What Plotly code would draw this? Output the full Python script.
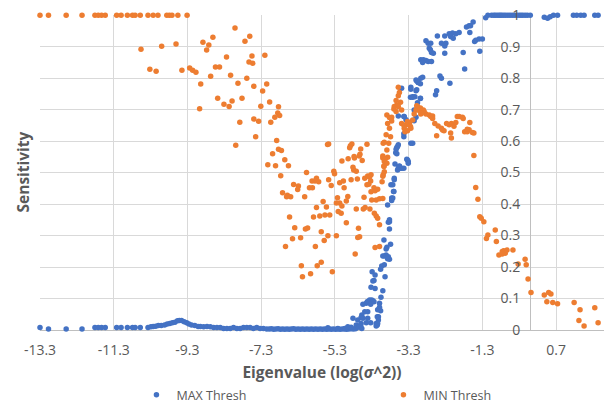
import plotly.graph_objects as go

# ---- data ----
max_x = [
    -13.30, -13.07, -12.59, -12.16, -11.81, -11.72, -11.63, -11.53, -11.22, -11.10,
    -10.93, -10.79, -10.72, -10.58, -10.37, -10.29, -10.23, -10.16, -10.09, -10.01,
    -9.92, -9.85, -9.78, -9.71, -9.64, -9.57, -9.52, -9.46, -9.39, -9.32,
    -9.26, -9.19, -9.10, -9.01, -8.95, -8.86, -8.77, -8.68, -8.59, -8.50,
    -8.41, -8.32, -8.23, -8.14, -8.05, -7.96, -7.87, -7.78, -7.69, -7.60,
    -7.51, -7.42, -7.33, -7.24, -7.15, -7.08, -7.02, -6.96, -6.90, -6.84,
    -6.78, -6.72, -6.66, -6.60, -6.54, -6.48, -6.42, -6.36, -6.30, -6.24,
    -6.18, -6.12, -6.06, -6.00, -5.94, -5.88, -5.82, -5.76, -5.70, -5.64,
    -5.58, -5.52, -5.46, -5.40, -5.34, -5.28, -5.22, -5.16, -5.10, -5.04,
    -4.98, -4.92, -4.86, -4.80, -4.74,
    -5.49, -5.22, -5.03, -4.81, -4.68, -4.72, -4.95, -4.86, -4.63, -4.59,
    -4.49, -4.41, -4.57, -4.14, -4.12, -4.18, -4.15, -4.36, -4.30, -4.41,
    -4.45, -4.24, -4.29, -4.21, -4.24, -4.21, -3.96, -3.91,
    -3.82, -3.85, -3.82, -3.97, -3.79, -3.89, -3.91, -4.00, -3.85, -3.82,
    -3.87, -4.03, -3.96, -4.06, -3.94, -4.27, -4.32, -4.00, -4.05, -4.42,
    -4.27, -4.33, -4.54, -4.09, -4.09, -4.06, -4.59, -4.54, -4.41, -4.33,
    -4.45, -4.15, -4.12, -4.14, -4.18, -4.60, -4.65, -4.57,
    -3.58, -3.43, -3.10, -3.15, -3.28, -3.43, -3.43, -3.24, -3.58, -3.62,
    -3.65, -3.35, -3.31, -3.67, -3.55, -3.51, -3.58, -3.69, -3.78, -3.71,
    -3.73, -3.76, -3.87, -3.82,
    -3.49, -3.24, -3.19, -3.13, -3.08, -3.04, -2.97, -3.08, -2.98, -3.37,
    -3.42, -3.15, -3.19, -3.60, -3.64, -3.62, -3.55, -3.49, -3.60, -3.43,
    -3.33, -3.31, -3.69, -3.73, -3.70, -3.76,
    -1.55, -1.66, -1.73, -1.51, -1.93, -2.02, -2.11, -2.20, -2.32, -2.16,
    -2.09, -2.52, -2.41, -2.29, -2.32, -2.83, -2.77, -2.70, -2.74, -2.68,
    -2.63, -2.71, -2.32, -1.82, -1.78, -2.97, -2.90, -2.83, -2.77, -2.68,
    -2.92, -2.45, -2.41, -2.18, -2.92, -3.10, -3.04, -2.98, -3.24, -3.10,
    -2.54, -2.57, -3.25, -3.19, -2.98, -3.06,
    -1.48, -1.39, -1.30, -1.37, -1.62, -1.64,
    -1.21, -1.15, -1.05, -0.99, -0.95, -0.90, -0.85, -0.81, -0.77, -0.72,
    -0.67, -0.61, -0.55, -0.49, -0.43, -0.36, -0.30, -0.25, -0.20, -0.14,
    -0.08, 0.00, 0.38, 0.47, 0.54, 0.63, 0.74, 1.17, 1.26, 1.37,
    1.46, 1.75, 1.84,
]
max_y = [
    0.008, 0.003, 0.003, 0.003, 0.008, 0.008, 0.008, 0.008, 0.008, 0.008,
    0.008, 0.008, 0.008, 0.008, 0.008, 0.010, 0.011, 0.012, 0.014, 0.014,
    0.016, 0.019, 0.021, 0.023, 0.025, 0.029, 0.030, 0.030, 0.026, 0.023,
    0.019, 0.016, 0.014, 0.011, 0.011, 0.010, 0.011, 0.010, 0.008, 0.008,
    0.008, 0.005, 0.005, 0.005, 0.008, 0.005, 0.005, 0.008, 0.008, 0.008,
    0.005, 0.008, 0.005, 0.005, 0.003, 0.003, 0.004, 0.002, 0.003, 0.004,
    0.002, 0.003, 0.002, 0.003, 0.002, 0.003, 0.004, 0.002, 0.003, 0.002,
    0.003, 0.002, 0.003, 0.002, 0.003, 0.002, 0.003, 0.002, 0.003, 0.002,
    0.003, 0.002, 0.003, 0.002, 0.003, 0.002, 0.003, 0.002, 0.003, 0.003,
    0.002, 0.003, 0.004, 0.003, 0.004,
    0.007, 0.005, 0.005, 0.037, 0.032, 0.016, 0.010, 0.009, 0.013, 0.021,
    0.058, 0.058, 0.048, 0.064, 0.042, 0.021, 0.016, 0.095, 0.095, 0.090,
    0.085, 0.090, 0.185, 0.175, 0.157, 0.132, 0.235, 0.238,
    0.344, 0.342, 0.321, 0.286, 0.272, 0.263, 0.257, 0.235, 0.233, 0.225,
    0.226, 0.203, 0.207, 0.193, 0.169, 0.156, 0.136, 0.125, 0.104, 0.090,
    0.093, 0.082, 0.082, 0.085, 0.072, 0.061, 0.040, 0.037, 0.037, 0.023,
    0.023, 0.042, 0.032, 0.021, 0.013, 0.013, 0.009, 0.005,
    0.680, 0.678, 0.676, 0.665, 0.659, 0.623, 0.614, 0.593, 0.588, 0.580,
    0.563, 0.542, 0.535, 0.527, 0.521, 0.514, 0.514, 0.482, 0.461, 0.440,
    0.419, 0.411, 0.397, 0.350,
    0.768, 0.765, 0.741, 0.741, 0.791, 0.786, 0.800, 0.763, 0.735, 0.668,
    0.678, 0.699, 0.593, 0.583, 0.574, 0.560, 0.519, 0.514, 0.508, 0.514,
    0.540, 0.530, 0.477, 0.461, 0.440, 0.419,
    0.978, 0.966, 0.962, 0.916, 0.945, 0.941, 0.943, 0.941, 0.934, 0.932,
    0.927, 0.934, 0.911, 0.911, 0.902, 0.919, 0.911, 0.911, 0.895, 0.881,
    0.879, 0.890, 0.879, 0.881, 0.829, 0.858, 0.858, 0.856, 0.853, 0.853,
    0.850, 0.807, 0.800, 0.784, 0.803, 0.794, 0.786, 0.782, 0.771, 0.760,
    0.760, 0.747, 0.739, 0.739, 0.736, 0.722,
    0.920, 0.924, 0.924, 0.885, 0.966, 0.945,
    0.992, 1.000, 1.000, 1.000, 1.000, 1.000, 1.000, 1.000, 1.000, 1.000,
    1.000, 1.000, 1.000, 1.000, 1.000, 1.000, 1.000, 1.000, 1.000, 1.000,
    1.000, 1.000, 0.993, 0.990, 0.995, 1.000, 1.000, 1.000, 1.000, 1.000,
    1.000, 1.000, 1.000,
]

min_x = [
    -13.30, -13.07, -12.59, -12.16, -11.81, -11.72, -11.63, -11.53, -11.22, -11.10,
    -10.93, -10.79, -10.72, -10.58, -10.37, -10.23, -10.10, -9.86, -9.79, -9.72,
    -9.56, -9.31,
    -10.56, -10.00, -9.61, -10.32, -10.15, -9.45, -9.24, -9.16, -9.07, -8.94,
    -8.97, -8.88, -8.72, -8.61, -8.78, -8.54, -8.43, -8.67, -8.24, -8.01,
    -7.74, -7.61, -7.55, -7.63, -7.53, -7.20, -8.13, -7.93, -7.69, -7.50,
    -7.15, -7.26, -8.48, -8.31, -8.17, -8.09, -7.82, -7.88, -7.50, -7.37,
    -7.31, -7.07, -6.83, -6.85, -6.80, -6.93, -7.04, -7.99, -7.45, -6.88,
    -6.99, -6.83, -6.75, -6.66, -7.12, -6.91, -6.56,
    -6.77, -6.07, -6.42, -6.29, -6.31, -6.72, -6.59, -6.50, -6.61, -6.12,
    -5.92, -5.84, -5.80, -5.99, -5.91, -6.53, -6.39, -6.10, -6.04, -5.88,
    -5.80, -6.45, -6.23, -6.64, -5.83, -6.21, -6.18, -5.96, -5.78,
    -5.47, -5.50, -4.88, -4.84, -4.90, -4.43, -4.60, -5.11, -4.94, -4.78,
    -4.77, -4.64, -4.62, -4.56, -3.96, -3.99, -4.00, -3.96, -3.97, -4.81,
    -4.79, -4.72, -5.33, -5.31, -5.74, -5.47, -5.40, -5.17, -5.07, -5.05,
    -4.86, -4.69, -4.49, -4.41, -4.43, -4.38, -4.33, -4.24, -4.32, -4.21,
    -3.99, -4.02, -5.62, -5.53, -5.23, -5.17, -5.26, -4.95, -4.99, -4.72,
    -4.53, -4.48, -4.35, -4.30, -4.18, -4.09, -4.00, -4.51, -4.23, -5.71,
    -5.57, -5.44, -5.21, -5.13,
    -5.11, -4.18, -4.14, -4.09, -5.67, -5.49, -5.59, -5.26, -4.99, -4.66,
    -4.63, -4.68, -4.21, -4.09, -4.75, -5.67, -5.37,
    -3.58, -3.55, -3.58, -3.64, -3.52, -3.62, -3.69, -3.58, -3.70, -3.49,
    -3.64, -3.06, -3.10, -3.01, -2.97, -2.88, -3.15, -2.97, -2.83, -2.74,
    -2.65, -1.98, -1.84, -3.76,
    -2.07, -2.14, -2.20, -2.27, -2.16, -2.14, -2.34, -2.41, -2.54, -2.50,
    -2.59, -2.65, -2.70, -2.90, -2.98, -3.04, -3.08, -2.95, -3.19, -3.28,
    -3.25, -3.33, -3.37, -3.49, -3.43, -3.42, -3.40, -3.33, -3.24,
    -3.89, -3.82, -3.76, -3.87, -3.82, -3.91, -3.79, -3.84, -3.89, -3.87,
    -4.00, -3.94, -3.89, -3.97, -3.96, -4.00, -4.32, -4.36, -4.14, -2.02,
    -2.38,
    -1.93, -1.82, -1.78, -1.71, -1.66, -1.64, -1.57, -1.53, -1.71, -1.53,
    -1.48, -1.42, -1.37, -1.33, -1.26, -1.19, -1.15, -0.95, -0.92, -0.85,
    -0.76, -0.72, -0.68, -0.63, -0.47, -0.76, -0.33, -0.14, -0.11, -0.06,
    0.02, 0.38, 0.50, 0.56, 0.45, 0.61, 0.74, 1.19, 1.35, 1.75,
    1.32, 1.46, 1.84,
]
min_y = [
    1.000, 1.000, 1.000, 1.000, 1.000, 1.000, 1.000, 1.000, 1.000, 1.000,
    1.000, 1.000, 1.000, 1.000, 1.000, 1.000, 1.000, 1.000, 1.000, 1.000,
    1.000, 1.000,
    0.892, 0.901, 0.908, 0.828, 0.822, 0.825, 0.832, 0.825, 0.819, 0.781,
    0.703, 0.914, 0.905, 0.930, 0.889, 0.835, 0.835, 0.806, 0.867, 0.959,
    0.917, 0.933, 0.870, 0.851, 0.847, 0.873, 0.809, 0.784, 0.800, 0.774,
    0.781, 0.759, 0.736, 0.717, 0.710, 0.727, 0.736, 0.660, 0.670, 0.663,
    0.711, 0.724, 0.709, 0.689, 0.681, 0.676, 0.660, 0.587, 0.614, 0.602,
    0.560, 0.574, 0.570, 0.541, 0.525, 0.522, 0.522,
    0.490, 0.500, 0.462, 0.457, 0.446, 0.436, 0.428, 0.423, 0.423, 0.423,
    0.473, 0.473, 0.482, 0.452, 0.452, 0.359, 0.325, 0.321, 0.324, 0.359,
    0.389, 0.290, 0.293, 0.265, 0.265, 0.204, 0.169, 0.179, 0.204,
    0.591, 0.589, 0.585, 0.591, 0.579, 0.590, 0.575, 0.537, 0.544, 0.551,
    0.546, 0.553, 0.558, 0.538, 0.596, 0.593, 0.546, 0.535, 0.521, 0.517,
    0.508, 0.504, 0.504, 0.496, 0.471, 0.477, 0.459, 0.468, 0.473, 0.452,
    0.477, 0.480, 0.482, 0.489, 0.461, 0.463, 0.473, 0.452, 0.439, 0.442,
    0.493, 0.471, 0.408, 0.391, 0.420, 0.403, 0.403, 0.424, 0.410, 0.384,
    0.384, 0.389, 0.384, 0.413, 0.413, 0.417, 0.418, 0.422, 0.371, 0.362,
    0.365, 0.365, 0.376, 0.371,
    0.394, 0.362, 0.355, 0.334, 0.312, 0.299, 0.284, 0.299, 0.341, 0.323,
    0.296, 0.294, 0.262, 0.265, 0.241, 0.215, 0.185,
    0.771, 0.754, 0.744, 0.729, 0.723, 0.715, 0.710, 0.710, 0.702, 0.699,
    0.694, 0.710, 0.699, 0.699, 0.694, 0.694, 0.686, 0.686, 0.686, 0.683,
    0.680, 0.678, 0.676, 0.676,
    0.647, 0.656, 0.652, 0.656, 0.626, 0.610, 0.633, 0.641, 0.617, 0.648,
    0.656, 0.672, 0.678, 0.699, 0.705, 0.699, 0.712, 0.689, 0.667, 0.656,
    0.646, 0.662, 0.651, 0.656, 0.651, 0.641, 0.630, 0.633, 0.641,
    0.683, 0.675, 0.664, 0.656, 0.641, 0.620, 0.614, 0.593, 0.572, 0.549,
    0.553, 0.542, 0.530, 0.519, 0.503, 0.488, 0.493, 0.486, 0.447, 0.659,
    0.635,
    0.678, 0.672, 0.630, 0.630, 0.636, 0.659, 0.627, 0.626, 0.638, 0.554,
    0.453, 0.415, 0.360, 0.355, 0.344, 0.291, 0.302, 0.318, 0.281, 0.238,
    0.249, 0.252, 0.244, 0.254, 0.254, 0.241, 0.210, 0.225, 0.207, 0.162,
    0.119, 0.111, 0.119, 0.114, 0.090, 0.087, 0.083, 0.087, 0.064, 0.071,
    0.030, 0.013, 0.023,
]

x_tick_vals = [-13.3, -11.3, -9.3, -7.3, -5.3, -3.3, -1.3, 0.7]
x_tick_text = ["-13.3", "-11.3", "-9.3", "-7.3", "-5.3", "-3.3", "-1.3", "0.7"]
y_tick_vals = [0, 0.1, 0.2, 0.3, 0.4, 0.5, 0.6, 0.7, 0.8, 0.9, 1.0]
y_tick_text = ["0", "0.1", "0.2", "0.3", "0.4", "0.5", "0.6", "0.7", "0.8", "0.9", "1"]

X_MIN, X_MAX = -13.3, 2.0
Y_MIN, Y_MAX = 0.0, 1.0005

FONT = "'Open Sans', 'Noto Sans', sans-serif"
TXT = "#595959"
GRID = "#D9D9D9"

fig = go.Figure()
fig.add_trace(go.Scatter(
    x=max_x, y=max_y, mode="markers", name="MAX Thresh",
    marker=dict(color="#4472C4", size=5.5), cliponaxis=False,
))
fig.add_trace(go.Scatter(
    x=min_x, y=min_y, mode="markers", name="MIN Thresh",
    marker=dict(color="#ED7D31", size=5.5), cliponaxis=False,
))

fig.update_layout(
    width=613, height=405,
    margin=dict(l=40, r=9, t=15, b=75, autoexpand=False),
    paper_bgcolor="white", plot_bgcolor="white",
    font=dict(family=FONT, size=14, color=TXT),
    showlegend=True,
    legend=dict(
        orientation="h", x=0.171, xanchor="left", y=-0.207, yanchor="middle",
        entrywidth=202, entrywidthmode="pixels",
        font=dict(family=FONT, size=12.5, color=TXT),
    ),
    xaxis=dict(
        range=[X_MIN, X_MAX], tickvals=x_tick_vals, ticktext=x_tick_text,
        showgrid=True, gridcolor=GRID, gridwidth=1,
        zeroline=True, zerolinecolor="#BFBFBF", zerolinewidth=1,
        showline=False, ticks="", ticklabelstandoff=10,
        tickfont=dict(family=FONT, size=14, color=TXT),
        ticklabeloverflow="allow",
        title=dict(text="<b>Eigenvalue (log(<i>σ</i>^2))</b>",
                   font=dict(family=FONT, size=15.5, color=TXT), standoff=9),
        layer="above traces",
        fixedrange=True,
    ),
    yaxis=dict(
        range=[Y_MIN, Y_MAX], tickvals=y_tick_vals, ticktext=y_tick_text,
        showgrid=True, gridcolor=GRID, gridwidth=1,
        zeroline=True, zerolinecolor="#BFBFBF", zerolinewidth=1,
        showline=False, ticks="", side="left", ticklabelposition="outside",
        ticklabelstandoff=10, layer="above traces",
        ticklabeloverflow="allow",
        tickfont=dict(family=FONT, size=14, color=TXT),
        anchor="free", position=(0 - X_MIN) / (X_MAX - X_MIN),
        fixedrange=True,
    ),
    annotations=[dict(
        text="<b>Sensitivity</b>", textangle=-90,
        xref="paper", yref="paper", x=-18 / 564, y=0.5,
        xanchor="center", yanchor="middle", showarrow=False,
        font=dict(family=FONT, size=15.5, color=TXT),
    )],
)

# remove the default page margin so the figure fills the window exactly
fig.write_html(
    "out.html",
    config={"displayModeBar": False},
    post_script="document.body.style.margin='0';document.body.style.overflow='hidden';",
)
